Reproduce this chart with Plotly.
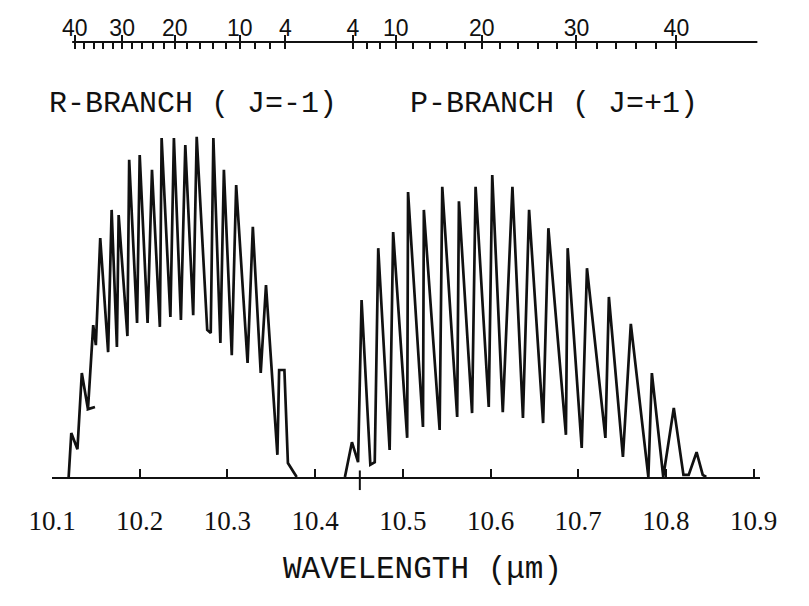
import plotly.graph_objects as go

# ---------------- data ----------------
# R-branch trace: wavelength (µm) and relative intensity (a.u.)
r_wl = [10.119, 10.122, 10.129, 10.134, 10.141, 10.149, 10.141, 10.147, 10.150,
        10.155, 10.164, 10.168, 10.174, 10.176, 10.186, 10.188, 10.197, 10.200,
        10.209, 10.214, 10.223, 10.225, 10.235, 10.239, 10.247, 10.252, 10.261,
        10.265, 10.277, 10.281, 10.284, 10.292, 10.296, 10.305, 10.310, 10.323,
        10.329, 10.338, 10.344, 10.357, 10.359, 10.365, 10.369, 10.379]
r_int = [0.0, 10.1, 6.4, 23.9, 15.6, 16.1, 15.6, 34.9, 30.3,
         54.9, 28.7, 61.4, 29.9, 60.2, 32.4, 72.9, 35.4, 74.0,
         35.4, 70.6, 34.5, 77.9, 36.8, 77.9, 36.1, 76.3, 37.2,
         78.2, 33.8, 33.1, 77.9, 30.8, 70.6, 28.0, 67.1, 26.2,
         57.5, 23.9, 44.1, 5.1, 24.6, 24.6, 3.2, 0.0]

# P-branch trace
p_wl = [10.434, 10.442, 10.449, 10.453, 10.463, 10.468, 10.472, 10.485, 10.489,
        10.505, 10.506, 10.523, 10.524, 10.542, 10.545, 10.562, 10.564, 10.579,
        10.583, 10.598, 10.602, 10.614, 10.625, 10.637, 10.644, 10.660, 10.666,
        10.686, 10.688, 10.704, 10.710, 10.731, 10.735, 10.751, 10.760, 10.780,
        10.784, 10.797, 10.809, 10.820, 10.826, 10.835, 10.842, 10.846]
p_int = [0.0, 8.0, 3.4, 40.7, 2.8, 3.4, 52.6, 6.2, 56.3,
         9.0, 65.5, 11.5, 61.4, 10.8, 66.7, 13.8, 63.4, 14.7,
         66.7, 16.1, 69.4, 14.9, 66.7, 13.6, 61.4, 12.4, 57.2,
         9.7, 52.6, 6.7, 48.0, 9.0, 41.4, 4.6, 35.2, 0.0,
         23.9, 0.0, 15.9, 0.5, 0.5, 5.7, 0.5, 0.0]

# bottom wavelength axis
wl_ticks = [10.1, 10.2, 10.3, 10.4, 10.5, 10.6, 10.7, 10.8, 10.9]
wl_labels = ["10.1", "10.2", "10.3", "10.4", "10.5", "10.6", "10.7", "10.8", "10.9"]

# top J scale: line positions (µm) of the R and P lines
r_j = [40, 38, 36, 34, 32, 30, 28, 26, 24, 22, 20, 18, 16, 14, 12, 10, 8, 6, 4]
r_j_wl = [10.126, 10.136, 10.148, 10.158, 10.170, 10.180, 10.191, 10.203, 10.215,
          10.228, 10.240, 10.254, 10.269, 10.284, 10.298, 10.314, 10.331, 10.349, 10.366]
p_j = [4, 6, 8, 10, 12, 14, 16, 18, 20, 22, 24, 26, 28, 30, 32, 34, 36, 38, 40]
p_j_wl = [10.443, 10.459, 10.474, 10.492, 10.512, 10.531, 10.550, 10.571, 10.590,
          10.611, 10.631, 10.654, 10.676, 10.698, 10.721, 10.743, 10.766, 10.789, 10.812]
j_labeled = [40, 30, 20, 10, 4]

# hand-drawn marker crossing the wavelength axis
marker_wl = 10.451

branch_labels = ["R-BRANCH ( J=-1)", "P-BRANCH ( J=+1)"]
x_title = "WAVELENGTH (\u03bcm)"

# ---------------- figure ----------------
INK = "#111111"
MONO = "Liberation Mono"
x_range = [10.1, 10.9073]

maj_vals, maj_text = [], []
for j, w in zip(r_j, r_j_wl):
    if j in j_labeled:
        maj_vals.append(w)
        maj_text.append(str(j))
for j, w in zip(p_j, p_j_wl):
    if j in j_labeled:
        maj_vals.append(w)
        maj_text.append(str(j))

fig = go.Figure()
fig.add_trace(go.Scatter(x=r_wl, y=r_int, mode="lines",
                         line=dict(color=INK, width=2.7), showlegend=False,
                         hoverinfo="skip"))
fig.add_trace(go.Scatter(x=p_wl, y=p_int, mode="lines",
                         line=dict(color=INK, width=2.7), showlegend=False,
                         hoverinfo="skip"))
# invisible trace to activate the top J axis
fig.add_trace(go.Scatter(x=[r_j_wl[0]], y=[0], xaxis="x2", mode="markers",
                         marker=dict(opacity=0), showlegend=False,
                         hoverinfo="skip"))

# page body has an 8 px margin: figure is 801x598 so the plot area sits at
# x 52..760, y 42..477 of the 809x606 window
fig.update_layout(
    template="none",
    width=801, height=598,
    margin=dict(l=44, r=49, t=34, b=129, autoexpand=False),
    paper_bgcolor="white", plot_bgcolor="white",
    font=dict(family=MONO, color=INK),
    xaxis=dict(range=x_range, tickmode="array", tickvals=wl_ticks,
               ticktext=wl_labels, ticks="inside", ticklen=8, tickwidth=2,
               tickcolor=INK, showline=True, linecolor=INK, linewidth=2,
               showgrid=False, zeroline=False, ticklabelstandoff=19,
               automargin=False,
               tickfont=dict(family="Liberation Serif", size=27, color=INK)),
    xaxis2=dict(range=x_range, overlaying="x", side="top", anchor="y",
                tickmode="array", tickvals=maj_vals, ticktext=maj_text,
                ticks="outside", ticklen=6, tickwidth=2, tickcolor=INK,
                showline=False, showgrid=False, zeroline=False,
                automargin=False, ticklabelstandoff=-10,
                tickfont=dict(family="Liberation Sans", size=23, color=INK),
                minor=dict(tickmode="array", tickvals=r_j_wl + p_j_wl,
                           ticks="inside", ticklen=7, tickwidth=2,
                           tickcolor=INK, showgrid=False)),
    yaxis=dict(range=[0, 100], visible=False, fixedrange=True,
               automargin=False),
)

# top J-scale line
fig.add_shape(type="line", xref="x", yref="paper",
              x0=r_j_wl[0] - 0.003, x1=x_range[1] - 0.003, y0=1, y1=1,
              line=dict(color=INK, width=2))
# marker tick through the bottom axis
fig.add_shape(type="line", xref="x", yref="paper",
              x0=marker_wl, x1=marker_wl, y0=-0.03, y1=0.015,
              line=dict(color=INK, width=2))

fig.add_annotation(text=branch_labels[0], xref="paper", yref="paper",
                   x=-0.007, y=0.857, xanchor="left", yanchor="middle",
                   showarrow=False, font=dict(family=MONO, size=30, color=INK))
fig.add_annotation(text=branch_labels[1], xref="paper", yref="paper",
                   x=0.503, y=0.857, xanchor="left", yanchor="middle",
                   showarrow=False, font=dict(family=MONO, size=30, color=INK))
fig.add_annotation(text=x_title, xref="paper", yref="paper",
                   x=0.523, y=-0.212, xanchor="center", yanchor="middle",
                   showarrow=False, font=dict(family=MONO, size=31, color=INK))

fig.write_html("out.html")
